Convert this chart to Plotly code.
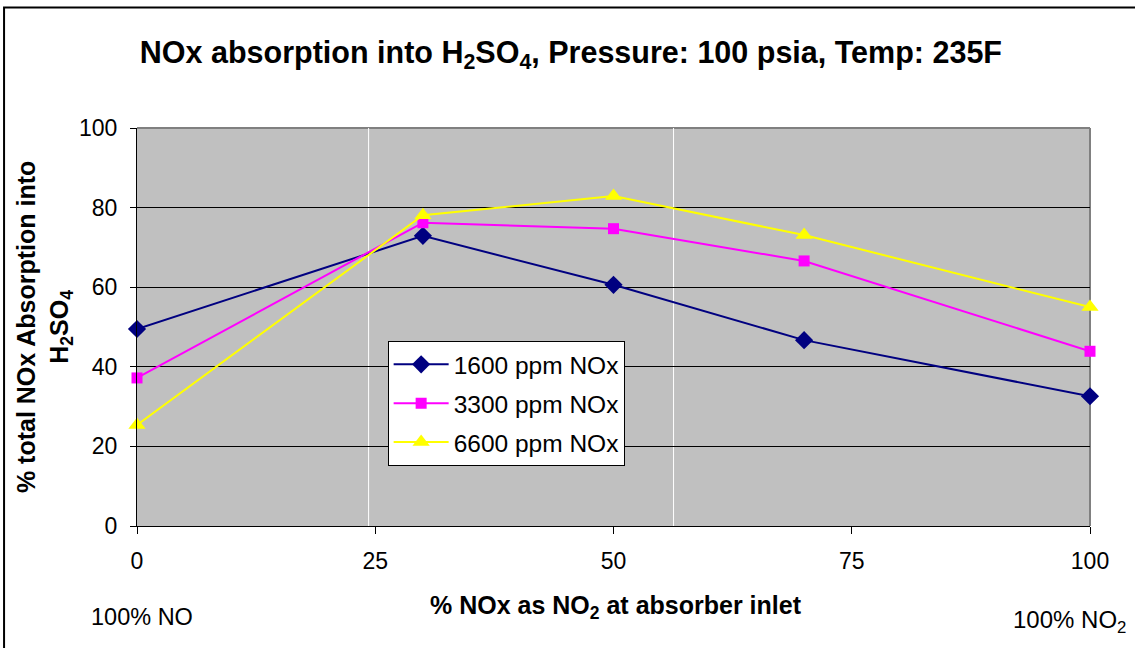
import plotly.graph_objects as go

# ---- data ----
x_pct_no2 = [0, 30, 50, 70, 100]
series_names = ["1600 ppm NOx", "3300 ppm NOx", "6600 ppm NOx"]
abs_1600 = [49.5, 72.9, 60.6, 46.7, 32.6]
abs_3300 = [37.2, 76.2, 74.7, 66.6, 43.9]
abs_6600 = [25.4, 78.1, 82.9, 73.1, 55.0]
x_ticks = [0, 25, 50, 75, 100]
y_ticks = [0, 20, 40, 60, 80, 100]
white_rule_x = [24.3, 56.3]

colors = ["#000080", "#FF00FF", "#FFFF00"]
symbols = ["diamond", "square", "triangle-up"]
sizes = [14, 11, 15]
FONT = "Liberation Sans, Arial, sans-serif"

fig = go.Figure()
for name, ys, c, s, sz in zip(series_names, [abs_1600, abs_3300, abs_6600], colors, symbols, sizes):
    fig.add_trace(go.Scatter(
        x=x_pct_no2, y=ys, name=name, mode="lines+markers",
        line=dict(color=c, width=2),
        marker=dict(symbol=s, size=sz, color=c, line=dict(width=0)),
        cliponaxis=False, legendgroup=name,
    ))

shapes = []
for xv in white_rule_x:
    shapes.append(dict(type="line", xref="x", yref="y", x0=xv, x1=xv, y0=0, y1=100,
                       line=dict(color="white", width=1), layer="below"))
# plot-area gray border (top and right)
shapes.append(dict(type="line", xref="paper", yref="paper", x0=0, x1=1, y0=1, y1=1,
                   line=dict(color="#808080", width=2), layer="between"))
shapes.append(dict(type="line", xref="paper", yref="paper", x0=1, x1=1, y0=0, y1=1,
                   line=dict(color="#808080", width=2), layer="between"))
# outer chart border
shapes.append(dict(type="rect", xref="paper", yref="paper", x0=-0.1395, x1=1.1, y0=-0.4, y1=1.303,
                   line=dict(color="black", width=2), fillcolor="rgba(0,0,0,0)", layer="above"))

annotations = [
    dict(text="% total NOx Absorption into<br>H<sub>2</sub>SO<sub>4</sub>", xref="paper", yref="paper",
         x=-0.0975, y=0.5, textangle=-90, showarrow=False, xanchor="center", yanchor="middle",
         font=dict(family=FONT, size=25, color="black", weight="bold")),
    dict(text="% NOx as NO<sub>2</sub> at absorber inlet", xref="paper", yref="paper",
         x=0.503, y=-0.2035, showarrow=False, xanchor="center", yanchor="middle",
         font=dict(family=FONT, size=25, color="black", weight="bold")),
    dict(text="100% NO", xref="paper", yref="paper", x=0.005, y=-0.229, showarrow=False,
         xanchor="center", yanchor="middle", font=dict(family=FONT, size=23.5, color="black")),
    dict(text="100% NO<sub>2</sub>", xref="paper", yref="paper", x=0.979, y=-0.241, showarrow=False,
         xanchor="center", yanchor="middle", font=dict(family=FONT, size=24, color="black")),
]

fig.update_layout(
    width=1135, height=648,
    margin=dict(l=137, r=45, t=128, b=122),
    paper_bgcolor="white", plot_bgcolor="#C0C0C0",
    font=dict(family=FONT, color="black", size=23),
    title=dict(text="<b>NOx absorption into H<sub>2</sub>SO<sub>4</sub>, Pressure: 100 psia, Temp: 235F</b>",
               x=0.503, xanchor="center", y=1 - 52 / 648, yanchor="middle", yref="container",
               font=dict(family=FONT, size=30.5, color="black")),
    xaxis=dict(range=[0, 100], tickvals=x_ticks, ticks="outside", ticklen=7, tickcolor="black",
               showgrid=False, zeroline=False, showline=True, linecolor="black", linewidth=1,
               ticklabelstandoff=7, tickfont=dict(size=23, family=FONT)),
    yaxis=dict(range=[0, 100], tickvals=y_ticks, ticks="outside", ticklen=6, tickcolor="black",
               showgrid=True, gridcolor="black", gridwidth=1, zeroline=False,
               showline=True, linecolor="black", linewidth=1,
               ticklabelstandoff=8, tickfont=dict(size=23, family=FONT)),
    legend=dict(x=0.263, y=0.465, xanchor="left", yanchor="top", bgcolor="white",
                bordercolor="black", borderwidth=1, font=dict(family=FONT, size=24.5),
                tracegroupgap=4, itemwidth=55),
    shapes=shapes, annotations=annotations, showlegend=True,
)

fig.write_html("out.html")
